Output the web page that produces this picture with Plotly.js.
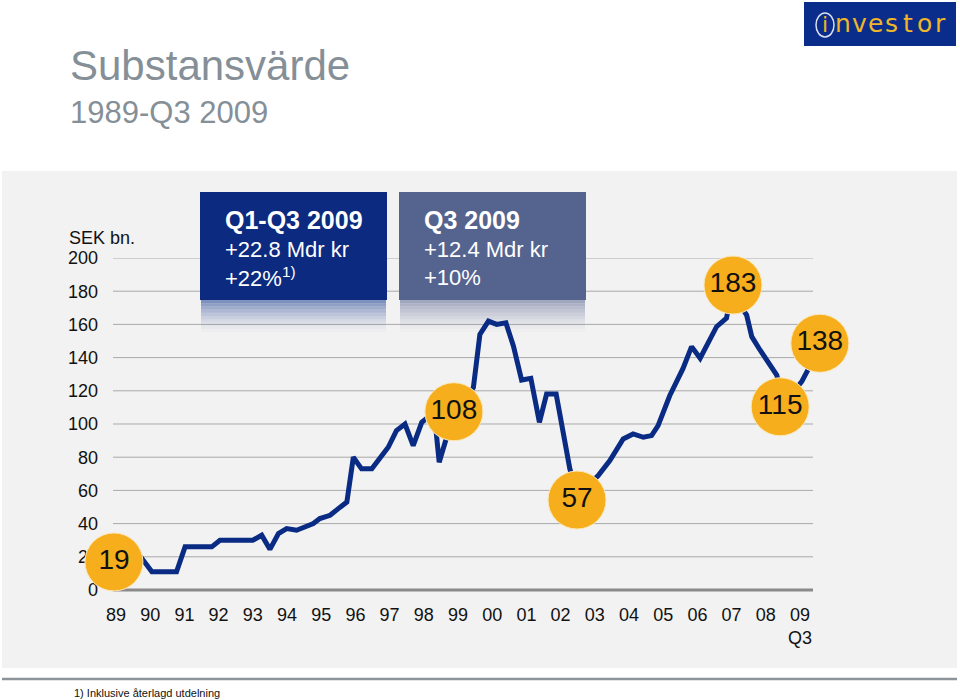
<!DOCTYPE html>
<html>
<head>
<meta charset="utf-8">
<script src="https://cdn.plot.ly/plotly-3.0.1.min.js"></script>
<style>
  html, body { margin: 0; padding: 0; background: #ffffff; }
  #chart { width: 960px; height: 700px; }
</style>
</head>
<body>
<div id="chart"></div>
<script>
// ---- Data ----
const navYears = [1989.0, 1989.72, 1990.05, 1990.77, 1991.02, 1991.8, 1992.04, 1993.0, 1993.26, 1993.5,
  1993.75, 1993.99, 1994.28, 1994.77, 1994.96, 1995.26, 1995.5, 1995.75, 1995.94, 1996.18,
  1996.48, 1996.72, 1996.96, 1997.2, 1997.45, 1997.69, 1997.94, 1998.18, 1998.3, 1998.45,
  1998.62, 1998.9, 1999.45, 1999.64, 1999.89, 2000.13, 2000.4, 2000.62, 2000.86, 2001.13,
  2001.38, 2001.59, 2001.87, 2002.27, 2002.5, 2003.1, 2003.44, 2003.83, 2004.12, 2004.42,
  2004.66, 2004.85, 2005.19, 2005.58, 2005.83, 2006.08, 2006.56, 2006.85, 2007.04, 2007.3,
  2007.44, 2007.59, 2007.83, 2008.08, 2008.32, 2008.5, 2008.75, 2009.05, 2009.2, 2009.37];
const navValues = [19, 20, 11, 11, 26, 26, 30, 30, 33, 24.5,
  34, 37, 36, 40, 43, 45, 49, 53, 80, 73,
  73, 79, 86, 96, 100, 87, 101, 105, 108, 77,
  88, 108, 122, 154, 162, 160, 161, 147, 126.5, 127.5,
  101, 118, 118, 73, 57, 69, 78, 91, 94, 92,
  93, 99, 117, 133.5, 146.6, 139.6, 158.6, 163.7, 183, 170,
  165.6, 152.6, 144.6, 137.5, 129.5, 115, 118, 125.5, 131.5, 138];

const bubbleLabels = ['19', '108', '57', '183', '115', '138'];
const bubbleYears  = [1988.94, 1998.88, 2002.48, 2007.04, 2008.42, 2009.58];
const bubbleValues = [16.9, 107.4, 54.2, 183.7, 110.4, 148.6];

const xTickYears  = [1989,1990,1991,1992,1993,1994,1995,1996,1997,1998,1999,2000,2001,2002,2003,2004,2005,2006,2007,2008,2009];
const xTickLabels = ['89','90','91','92','93','94','95','96','97','98','99','00','01','02','03','04','05','06','07','08','09<br>Q3'];
const yTickValues = [0,20,40,60,80,100,120,140,160,180,200];

const titleText = 'Substansvärde';
const subtitleText = '1989-Q3 2009';
const unitText = 'SEK bn.';
const box1Lines = ['<b>Q1-Q3 2009</b>', '+22.8 Mdr kr', '+22%<sup>1)</sup>'];
const box2Lines = ['<b>Q3 2009</b>', '+12.4 Mdr kr', '+10%'];
const footnoteText = '1) Inklusive återlagd utdelning';

// ---- Layout helpers (pixel -> paper) ----
const W = 960, H = 700;
const M = {l: 113, r: 80, t: 258, b: 110};
const PW = W - M.l - M.r, PH = H - M.t - M.b;
const px = x => (x - M.l) / PW;
const py = y => (H - M.b - y) / PH;
const FONT = 'Liberation Sans, Arial, Helvetica, sans-serif';
const PX_PER_YEAR = 34.2;          // horizontal scale
const X_LEFT = 1989 - 3 / PX_PER_YEAR;
const X_RIGHT = X_LEFT + PW / PX_PER_YEAR;
const GRID_END = 813;              // gridlines stop here (pixel)

const shapes = [];
const annotations = [];

// grey panel
shapes.push({type: 'rect', xref: 'paper', yref: 'paper', layer: 'below',
  x0: px(2), x1: px(957), y0: py(668), y1: py(171),
  fillcolor: '#f2f2f2', line: {width: 0}});
// horizontal gridlines (stop before the right-hand bubble area)
yTickValues.filter(v => v > 0).forEach(v => {
  shapes.push({type: 'line', xref: 'paper', yref: 'y', layer: 'below',
    x0: 0, x1: px(GRID_END), y0: v, y1: v,
    line: {color: '#a9a9a9', width: 1}});
});
// baseline (zero line)
shapes.push({type: 'line', xref: 'paper', yref: 'paper', layer: 'below',
  x0: 0, x1: px(GRID_END), y0: 0, y1: 0,
  line: {color: '#8a8a8a', width: 3}});
// separator line
shapes.push({type: 'line', xref: 'paper', yref: 'paper',
  x0: px(2), x1: px(957), y0: py(679), y1: py(679),
  line: {color: '#8c9399', width: 2.5}});

// info boxes and their reflections
function addBox(x0, x1, fill, refl, lines) {
  shapes.push({type: 'rect', xref: 'paper', yref: 'paper', layer: 'above',
    x0: px(x0), x1: px(x1), y0: py(300), y1: py(192),
    fillcolor: fill, line: {width: 0}});
  const n = 10;
  for (let i = 0; i < n; i++) {
    shapes.push({type: 'rect', xref: 'paper', yref: 'paper', layer: 'below',
      x0: px(x0 + 1), x1: px(x1 - 1), y0: py(300 + (i + 1) * 3.2), y1: py(300 + i * 3.2),
      fillcolor: refl, opacity: 0.7 * Math.pow(1 - i / n, 1.5), line: {width: 0}});
  }
  const ys = [220, 249, 277];
  const sizes = [25, 22, 22];
  lines.forEach((t, i) => {
    annotations.push({xref: 'paper', yref: 'paper', x: px(x0 + 23), y: py(ys[i]),
      xanchor: 'left', yanchor: 'middle', showarrow: false, text: t,
      font: {family: FONT, size: sizes[i], color: '#ffffff'}});
  });
}
addBox(200, 387, '#0b2a80', '#4d66a6', box1Lines);
addBox(399, 586, '#55648f', '#7d86a8', box2Lines);

// titles
annotations.push({xref: 'paper', yref: 'paper', x: px(68), y: py(66), xanchor: 'left', yanchor: 'middle',
  showarrow: false, text: titleText, font: {family: FONT, size: 42, color: '#858f97'}});
annotations.push({xref: 'paper', yref: 'paper', x: px(68), y: py(112), xanchor: 'left', yanchor: 'middle',
  showarrow: false, text: subtitleText, font: {family: FONT, size: 31, color: '#858f97'}});
annotations.push({xref: 'paper', yref: 'paper', x: px(67), y: py(238), xanchor: 'left', yanchor: 'middle',
  showarrow: false, text: unitText, font: {family: FONT, size: 18, color: '#111111'}});
annotations.push({xref: 'paper', yref: 'paper', x: px(72), y: py(693), xanchor: 'left', yanchor: 'middle',
  showarrow: false, text: footnoteText, font: {family: FONT, size: 11, color: '#111111'}});

// logo
shapes.push({type: 'rect', xref: 'paper', yref: 'paper',
  x0: px(804), x1: px(956), y0: py(46), y1: py(2),
  fillcolor: '#0a2d8c', line: {width: 0}});
shapes.push({type: 'circle', xref: 'paper', yref: 'paper',
  x0: px(816), x1: px(834), y0: py(37), y1: py(13),
  fillcolor: 'rgba(0,0,0,0)', line: {color: '#d9def2', width: 1.5}});
annotations.push({xref: 'paper', yref: 'paper', x: px(825), y: py(25), xanchor: 'center', yanchor: 'middle',
  showarrow: false, text: 'i', font: {family: 'DejaVu Sans, sans-serif', size: 22, color: '#f0b628'}});
const logoLetters = 'nvestor'.split('');
logoLetters.forEach((ch, i) => {
  annotations.push({xref: 'paper', yref: 'paper', x: px(843 + i * 16.2), y: py(24), xanchor: 'center', yanchor: 'middle',
    showarrow: false, text: ch, font: {family: 'DejaVu Sans, sans-serif', size: 25, color: '#f0b628'}});
});

const traces = [
  {x: navYears, y: navValues, type: 'scatter', mode: 'lines',
   line: {color: '#0a2b84', width: 5, shape: 'linear'}, cliponaxis: false, hoverinfo: 'skip'},
  {x: bubbleYears, y: bubbleValues, type: 'scatter', mode: 'markers+text',
   text: bubbleLabels, textposition: 'middle center',
   textfont: {family: FONT, size: 28, color: '#111111'},
   marker: {size: 58, color: '#f6ae1c', line: {color: '#fbe7b8', width: 1}},
   cliponaxis: false, hoverinfo: 'skip'}
];

const layout = {
  width: W, height: H,
  margin: M,
  paper_bgcolor: '#ffffff',
  plot_bgcolor: 'rgba(0,0,0,0)',
  showlegend: false,
  font: {family: FONT, color: '#111111'},
  xaxis: {
    range: [X_LEFT, X_RIGHT],
    tickmode: 'array', tickvals: xTickYears, ticktext: xTickLabels,
    showgrid: false, zeroline: false, showline: false, ticks: '',
    ticklabelstandoff: 12,
    tickfont: {family: FONT, size: 18, color: '#111111'},
    fixedrange: true
  },
  yaxis: {
    range: [0, 200],
    tickmode: 'array', tickvals: yTickValues,
    showgrid: false, zeroline: false,
    showline: false, ticks: '',
    ticklabelstandoff: 14,
    tickfont: {family: FONT, size: 18, color: '#111111'},
    layer: 'below traces',
    fixedrange: true
  },
  shapes: shapes,
  annotations: annotations
};

Plotly.newPlot('chart', traces, layout, {displayModeBar: false, staticPlot: true});
</script>
</body>
</html>
